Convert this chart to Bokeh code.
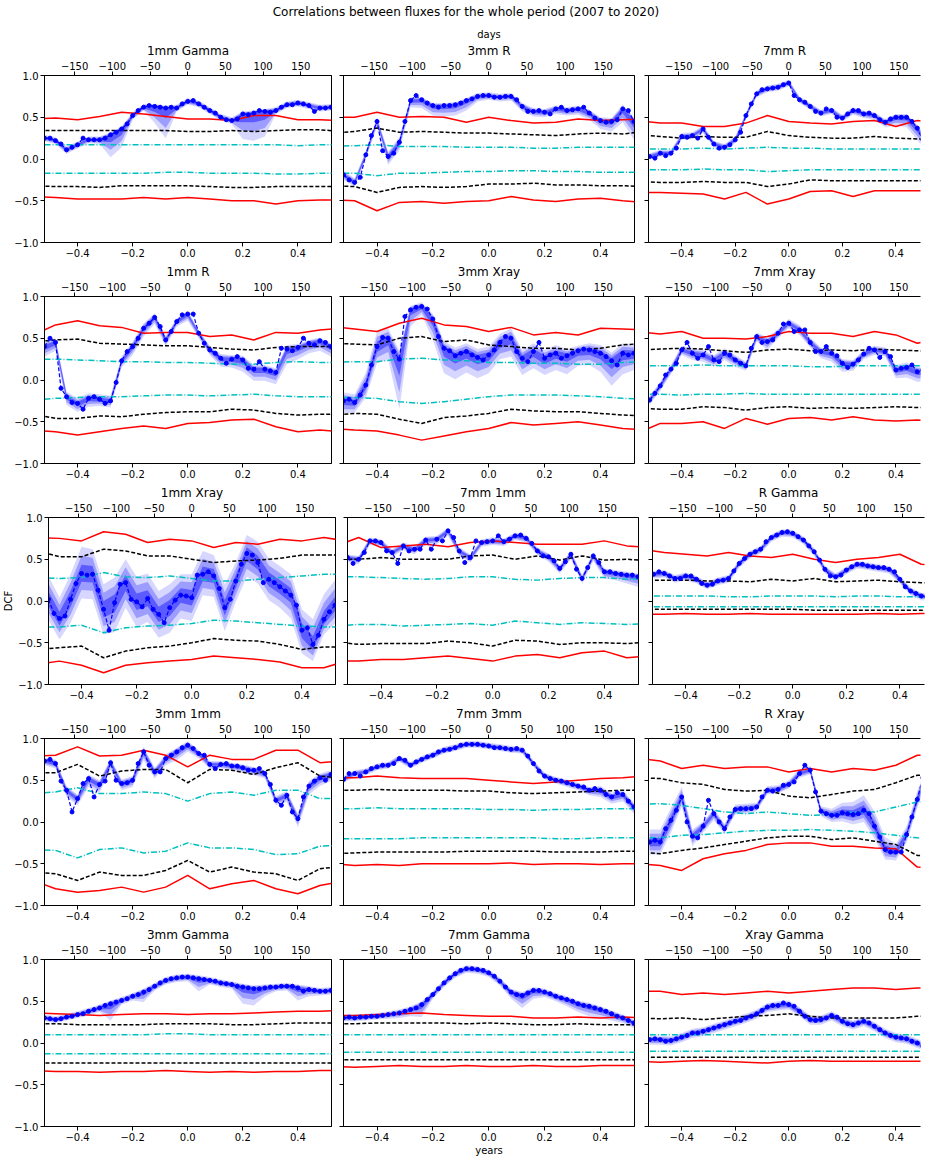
import numpy as np
from bokeh.plotting import figure
from bokeh.layouts import column, row
from bokeh.models import (Range1d, LinearAxis, FixedTicker, Div, Title,
                          CustomJSTickFormatter)
from bokeh.embed import file_html
from bokeh.resources import INLINE

# ---------------------------------------------------------------- data
MAIN_TITLE = "Correlations between fluxes for the whole period (2007 to 2020)"
LAG_YEARS = np.round(np.linspace(-0.52, 0.52, 53), 2)      # DCF lag grid
SIG_LAG_YEARS = np.round(np.linspace(-0.56, 0.56, 15), 2)  # significance-curve grid
YEAR_TICKS = [-0.4, -0.2, 0.0, 0.2, 0.4]
DAY_TICKS = [-150, -100, -50, 0, 50, 100, 150]
DCF_TICKS = [-1.0, -0.5, 0.0, 0.5, 1.0]

# sig tuples: (red upper, black upper, cyan upper, cyan lower, black lower, red lower)
dcf_1mm_gamma = [0.25,0.25,0.22,0.18,0.11,0.14,0.17,0.25,0.23,0.23,0.23,0.25,0.29,0.32,0.36,0.42,0.52,0.58,0.62,0.64,0.63,0.62,0.61,0.62,0.61,0.66,0.69,0.70,0.66,0.62,0.58,0.55,0.50,0.47,0.46,0.48,0.54,0.53,0.55,0.58,0.57,0.56,0.58,0.62,0.65,0.65,0.67,0.66,0.64,0.57,0.61,0.61,0.62]
lo_1mm_gamma = [.04,.04,.05,.04,.04,.05,.27,.22,.05,.04,.20,.36,.04,.04,.04,.04,.04,.04,.30,.33,.30,.04,.04,.04,.04,.04,.04]
hi_1mm_gamma = [.04,.04,.04,.04,.04,.04,.03,.03,.04,.04,.03,.03,.04,.04,.04,.04,.04,.04,.03,.03,.03,.04,.04,.04,.04,.04,.04]
sig_1mm_gamma = ([0.48,0.49,0.47,0.51,0.56,0.54,0.51,0.48,0.48,0.46,0.52,0.52,0.47,0.47,0.46],
                 [0.34,0.34,0.34,0.34,0.34,0.34,0.34,0.33,0.33,0.34,0.33,0.34,0.35,0.35,0.33],
                 [0.17,0.17,0.17,0.17,0.17,0.17,0.17,0.17,0.17,0.17,0.17,0.17,0.16,0.17,0.17],
                 [-0.17,-0.17,-0.17,-0.17,-0.17,-0.17,-0.16,-0.16,-0.17,-0.17,-0.17,-0.18,-0.18,-0.17,-0.17],
                 [-0.32,-0.33,-0.33,-0.34,-0.32,-0.32,-0.32,-0.32,-0.33,-0.34,-0.34,-0.33,-0.33,-0.33,-0.33],
                 [-0.45,-0.46,-0.48,-0.48,-0.48,-0.46,-0.48,-0.46,-0.48,-0.50,-0.50,-0.54,-0.50,-0.49,-0.49])

dcf_3mm_r = [-0.19,-0.25,-0.28,-0.22,0.05,0.28,0.45,0.10,0.03,0.07,0.20,0.45,0.70,0.76,0.71,0.67,0.64,0.62,0.64,0.64,0.65,0.67,0.70,0.72,0.75,0.76,0.76,0.74,0.74,0.75,0.75,0.71,0.63,0.57,0.57,0.58,0.56,0.54,0.60,0.62,0.58,0.59,0.60,0.62,0.55,0.49,0.46,0.44,0.45,0.47,0.60,0.58,0.45]
lo_3mm_r = [.06,.05,.05,.06,.10,.10,.08,.10,.12,.13,.13,.12,.06,.05,.05,.05,.06,.06,.06,.06,.06,.07,.08,.10,.12,.16,.22]
hi_3mm_r = [.05,.05,.05,.05,.06,.06,.04,.03,.03,.03,.03,.03,.04,.04,.04,.04,.04,.04,.04,.04,.04,.04,.04,.04,.04,.05,.05]
sig_3mm_r = ([0.50,0.50,0.56,0.50,0.51,0.50,0.44,0.50,0.46,0.43,0.44,0.48,0.46,0.47,0.48],
             [0.31,0.33,0.37,0.32,0.33,0.32,0.31,0.31,0.30,0.29,0.28,0.30,0.31,0.30,0.33],
             [0.15,0.16,0.17,0.15,0.15,0.15,0.14,0.14,0.14,0.13,0.13,0.14,0.14,0.14,0.14],
             [-0.17,-0.17,-0.20,-0.17,-0.17,-0.16,-0.15,-0.15,-0.14,-0.14,-0.15,-0.15,-0.16,-0.16,-0.16],
             [-0.32,-0.33,-0.40,-0.34,-0.33,-0.34,-0.33,-0.30,-0.30,-0.29,-0.31,-0.31,-0.32,-0.32,-0.33],
             [-0.49,-0.50,-0.62,-0.52,-0.51,-0.53,-0.51,-0.50,-0.45,-0.49,-0.51,-0.48,-0.47,-0.50,-0.52])

dcf_7mm_r = [0.03,0.01,0.07,0.04,0.07,0.13,0.27,0.26,0.28,0.25,0.36,0.26,0.18,0.13,0.14,0.17,0.23,0.32,0.52,0.66,0.78,0.83,0.84,0.85,0.86,0.89,0.91,0.76,0.71,0.68,0.63,0.57,0.55,0.60,0.58,0.50,0.49,0.54,0.58,0.58,0.54,0.55,0.52,0.47,0.44,0.48,0.50,0.50,0.50,0.45,0.37,0.23,0.20]
lo_7mm_r = [.04,.04,.04,.04,.04,.05,.04,.04,.04,.04,.04,.04,.04,.04,.04,.04,.04,.04,.04,.05,.05,.05,.06,.10,.12,.14,.15]
hi_7mm_r = [.04,.04,.04,.04,.04,.04,.04,.04,.04,.04,.04,.04,.04,.04,.04,.04,.04,.04,.04,.04,.04,.04,.04,.04,.04,.04,.04]
sig_7mm_r = ([0.46,0.43,0.43,0.39,0.39,0.43,0.52,0.45,0.43,0.42,0.45,0.46,0.39,0.46,0.43],
             [0.29,0.27,0.25,0.27,0.26,0.26,0.33,0.28,0.26,0.25,0.25,0.27,0.25,0.24,0.25],
             [0.12,0.12,0.12,0.13,0.12,0.13,0.14,0.13,0.13,0.12,0.12,0.12,0.12,0.12,0.12],
             [-0.13,-0.13,-0.13,-0.12,-0.13,-0.13,-0.15,-0.14,-0.13,-0.13,-0.13,-0.13,-0.13,-0.13,-0.12],
             [-0.27,-0.28,-0.28,-0.27,-0.28,-0.28,-0.33,-0.30,-0.25,-0.26,-0.26,-0.26,-0.26,-0.26,-0.26],
             [-0.40,-0.40,-0.41,-0.42,-0.48,-0.40,-0.54,-0.48,-0.39,-0.38,-0.45,-0.38,-0.38,-0.38,-0.38])

dcf_1mm_r = [0.40,0.50,0.45,-0.10,-0.20,-0.27,-0.28,-0.35,-0.22,-0.20,-0.23,-0.28,-0.25,-0.03,0.23,0.34,0.40,0.50,0.62,0.68,0.75,0.64,0.48,0.58,0.70,0.78,0.79,0.79,0.56,0.44,0.36,0.32,0.26,0.20,0.25,0.28,0.24,0.14,0.13,0.22,0.13,0.11,0.09,0.38,0.37,0.35,0.39,0.50,0.44,0.42,0.47,0.45,0.40]
lo_1mm_r = [.12,.10,.10,.10,.10,.08,.08,.08,.10,.10,.08,.08,.06,.08,.06,.06,.10,.10,.14,.14,.14,.14,.18,.14,.12,.12,.12]
hi_1mm_r = [.06,.05,.06,.06,.06,.06,.06,.05,.06,.06,.05,.05,.04,.04,.04,.05,.05,.05,.05,.05,.05,.05,.05,.04,.04,.04,.04]
sig_1mm_r = ([0.54,0.66,0.71,0.65,0.63,0.56,0.57,0.57,0.52,0.54,0.48,0.57,0.56,0.60,0.62],
             [0.46,0.48,0.49,0.44,0.43,0.42,0.41,0.41,0.39,0.37,0.36,0.39,0.40,0.40,0.40],
             [0.25,0.25,0.24,0.23,0.22,0.22,0.21,0.21,0.20,0.19,0.19,0.21,0.22,0.21,0.21],
             [-0.24,-0.22,-0.21,-0.20,-0.20,-0.19,-0.18,-0.18,-0.19,-0.18,-0.17,-0.19,-0.20,-0.20,-0.20],
             [-0.41,-0.46,-0.46,-0.43,-0.44,-0.41,-0.39,-0.38,-0.38,-0.35,-0.36,-0.40,-0.42,-0.41,-0.41],
             [-0.60,-0.62,-0.66,-0.62,-0.58,-0.55,-0.58,-0.52,-0.51,-0.48,-0.47,-0.56,-0.62,-0.60,-0.62])

dcf_3mm_xray = [-0.25,-0.23,-0.27,-0.18,-0.06,0.18,0.40,0.51,0.50,0.34,0.25,0.76,0.84,0.87,0.88,0.85,0.73,0.52,0.38,0.35,0.29,0.32,0.34,0.30,0.27,0.24,0.30,0.36,0.45,0.52,0.50,0.34,0.26,0.22,0.34,0.45,0.26,0.30,0.32,0.26,0.29,0.32,0.35,0.37,0.36,0.34,0.32,0.28,0.23,0.18,0.32,0.30,0.32]
lo_3mm_xray = [.15,.12,.15,.20,.25,.60,.20,.10,.25,.30,.28,.25,.25,.22,.20,.22,.20,.20,.20,.20,.22,.18,.18,.22,.30,.25,.20]
hi_3mm_xray = [.10,.10,.15,.18,.12,.10,.05,.05,.06,.08,.10,.10,.10,.10,.10,.12,.10,.10,.10,.10,.08,.06,.08,.10,.10,.12,.10]
sig_3mm_xray = ([0.64,0.61,0.58,0.68,0.74,0.66,0.64,0.58,0.63,0.54,0.57,0.54,0.62,0.61,0.60],
                [0.44,0.43,0.42,0.50,0.52,0.46,0.48,0.42,0.40,0.38,0.38,0.36,0.38,0.42,0.44],
                [0.21,0.22,0.22,0.25,0.26,0.24,0.23,0.21,0.21,0.20,0.20,0.19,0.19,0.21,0.22],
                [-0.21,-0.21,-0.22,-0.26,-0.28,-0.26,-0.23,-0.20,-0.18,-0.18,-0.18,-0.19,-0.20,-0.22,-0.23],
                [-0.42,-0.40,-0.41,-0.47,-0.52,-0.45,-0.43,-0.40,-0.35,-0.37,-0.38,-0.38,-0.40,-0.42,-0.43],
                [-0.58,-0.60,-0.61,-0.66,-0.72,-0.67,-0.62,-0.58,-0.51,-0.54,-0.52,-0.50,-0.54,-0.58,-0.60])

dcf_7mm_xray = [-0.24,-0.16,-0.07,0.06,0.13,0.20,0.36,0.45,0.32,0.26,0.30,0.40,0.24,0.22,0.32,0.30,0.24,0.20,0.17,0.38,0.52,0.45,0.46,0.48,0.56,0.67,0.68,0.58,0.60,0.60,0.45,0.34,0.34,0.40,0.32,0.29,0.20,0.15,0.19,0.24,0.31,0.38,0.36,0.27,0.34,0.28,0.12,0.14,0.15,0.18,0.10,0.12,0.10]
lo_7mm_xray = [.06,.06,.06,.06,.08,.08,.08,.08,.08,.06,.06,.10,.06,.06,.06,.06,.08,.10,.10,.08,.06,.06,.06,.10,.12,.12,.12]
hi_7mm_xray = [.05,.05,.05,.05,.06,.06,.06,.06,.06,.05,.05,.05,.05,.05,.06,.06,.05,.05,.05,.05,.05,.05,.05,.06,.06,.06,.06]
sig_7mm_xray = ([0.58,0.55,0.58,0.50,0.50,0.49,0.52,0.58,0.56,0.56,0.52,0.58,0.54,0.44,0.50],
                [0.36,0.37,0.38,0.37,0.35,0.33,0.36,0.37,0.35,0.36,0.35,0.37,0.36,0.35,0.34],
                [0.17,0.17,0.17,0.18,0.17,0.17,0.17,0.17,0.16,0.16,0.17,0.17,0.17,0.17,0.17],
                [-0.17,-0.17,-0.18,-0.17,-0.17,-0.16,-0.17,-0.17,-0.17,-0.17,-0.17,-0.17,-0.17,-0.17,-0.17],
                [-0.34,-0.35,-0.35,-0.32,-0.33,-0.36,-0.33,-0.32,-0.34,-0.33,-0.34,-0.33,-0.32,-0.33,-0.33],
                [-0.63,-0.52,-0.52,-0.50,-0.58,-0.46,-0.53,-0.46,-0.45,-0.48,-0.44,-0.48,-0.49,-0.48,-0.50])

dcf_1mm_xray = [0.02,-0.15,-0.21,-0.18,0.02,0.21,0.33,0.31,0.32,0.13,-0.10,-0.35,-0.02,0.20,0.22,0.02,-0.01,-0.07,0.03,-0.10,-0.16,-0.26,-0.08,0.01,0.07,0.06,0.04,0.31,0.32,0.35,0.30,0.15,-0.08,0.02,0.24,0.44,0.57,0.55,0.46,0.22,0.26,0.22,0.17,0.12,0.07,-0.05,-0.35,-0.32,-0.52,-0.41,-0.22,-0.13,-0.05]
lo_1mm_xray = [.25,.25,.28,.30,.30,.30,.35,.30,.30,.28,.28,.30,.28,.28,.25,.25,.28,.25,.28,.25,.25,.25,.28,.28,.20,.18,.22]
hi_1mm_xray = [.28,.25,.30,.32,.30,.30,.30,.28,.30,.30,.28,.28,.25,.28,.28,.25,.28,.22,.22,.25,.25,.25,.25,.25,.30,.30,.30]
sig_1mm_xray = ([0.76,0.75,0.72,0.83,0.80,0.70,0.74,0.72,0.64,0.70,0.68,0.74,0.72,0.76,0.72],
                [0.60,0.53,0.53,0.62,0.60,0.54,0.54,0.50,0.46,0.48,0.49,0.51,0.55,0.55,0.55],
                [0.28,0.27,0.28,0.34,0.29,0.28,0.30,0.27,0.24,0.24,0.26,0.28,0.30,0.32,0.32],
                [-0.31,-0.31,-0.29,-0.38,-0.32,-0.30,-0.29,-0.27,-0.23,-0.24,-0.26,-0.28,-0.30,-0.31,-0.31],
                [-0.58,-0.56,-0.54,-0.68,-0.60,-0.56,-0.54,-0.50,-0.45,-0.47,-0.48,-0.52,-0.58,-0.55,-0.55],
                [-0.76,-0.72,-0.77,-0.86,-0.77,-0.74,-0.72,-0.70,-0.66,-0.68,-0.70,-0.73,-0.80,-0.80,-0.72])

dcf_7mm_1mm = [0.52,0.45,0.50,0.58,0.72,0.72,0.70,0.60,0.58,0.45,0.66,0.60,0.62,0.62,0.73,0.62,0.74,0.72,0.84,0.76,0.60,0.46,0.52,0.72,0.70,0.71,0.72,0.78,0.71,0.74,0.78,0.79,0.75,0.69,0.60,0.54,0.53,0.48,0.39,0.47,0.56,0.38,0.27,0.40,0.54,0.46,0.35,0.35,0.33,0.32,0.31,0.31,0.29]
lo_7mm_1mm = [.05,.06,.05,.05,.05,.05,.06,.06,.06,.06,.06,.06,.05,.05,.05,.05,.05,.05,.06,.06,.06,.06,.06,.08,.08,.10,.12]
hi_7mm_1mm = [.04,.04,.04,.04,.04,.04,.04,.04,.04,.04,.04,.04,.04,.04,.04,.04,.04,.04,.04,.04,.04,.04,.04,.04,.04,.04,.04]
sig_7mm_1mm = ([0.66,0.76,0.64,0.66,0.68,0.65,0.70,0.72,0.70,0.68,0.68,0.68,0.72,0.66,0.64],
               [0.50,0.50,0.52,0.50,0.50,0.50,0.54,0.55,0.50,0.54,0.49,0.54,0.49,0.50,0.48],
               [0.29,0.29,0.28,0.27,0.26,0.27,0.29,0.29,0.26,0.25,0.27,0.28,0.28,0.26,0.27],
               [-0.30,-0.28,-0.28,-0.30,-0.29,-0.28,-0.27,-0.29,-0.24,-0.26,-0.28,-0.26,-0.27,-0.28,-0.27],
               [-0.49,-0.52,-0.51,-0.51,-0.51,-0.48,-0.50,-0.54,-0.47,-0.48,-0.52,-0.50,-0.50,-0.51,-0.49],
               [-0.72,-0.72,-0.70,-0.70,-0.68,-0.66,-0.69,-0.72,-0.66,-0.64,-0.68,-0.62,-0.60,-0.68,-0.66])

dcf_r_gamma = [0.32,0.35,0.33,0.30,0.27,0.27,0.30,0.30,0.26,0.21,0.19,0.20,0.24,0.25,0.27,0.36,0.45,0.51,0.56,0.59,0.62,0.71,0.76,0.79,0.82,0.83,0.81,0.77,0.73,0.66,0.59,0.49,0.38,0.30,0.29,0.31,0.37,0.41,0.44,0.44,0.42,0.41,0.40,0.40,0.38,0.35,0.26,0.17,0.12,0.09,0.06,0.05,0.05]
lo_r_gamma = [.05,.05,.05,.05,.05,.05,.05,.05,.05,.05,.05,.05,.05,.05,.05,.05,.05,.05,.05,.05,.05,.05,.05,.05,.05,.05,.05]
hi_r_gamma = [.04,.04,.04,.04,.04,.04,.04,.04,.04,.04,.04,.04,.04,.04,.04,.04,.04,.04,.04,.04,.04,.04,.04,.04,.04,.04,.04]
sig_r_gamma = ([0.62,0.58,0.56,0.54,0.58,0.54,0.52,0.56,0.50,0.46,0.50,0.52,0.56,0.44,0.42],
               [0.25,0.25,0.25,0.24,0.24,0.23,0.26,0.24,0.27,0.23,0.24,0.25,0.23,0.22,0.21],
               [0.06,0.06,0.06,0.06,0.05,0.05,0.06,0.06,0.06,0.05,0.06,0.06,0.05,0.05,0.05],
               [-0.07,-0.07,-0.07,-0.07,-0.07,-0.07,-0.07,-0.07,-0.07,-0.07,-0.07,-0.07,-0.07,-0.07,-0.07],
               [-0.10,-0.10,-0.10,-0.10,-0.10,-0.10,-0.10,-0.10,-0.11,-0.11,-0.11,-0.11,-0.11,-0.11,-0.11],
               [-0.16,-0.16,-0.15,-0.16,-0.16,-0.15,-0.16,-0.16,-0.16,-0.16,-0.16,-0.15,-0.16,-0.15,-0.15])

dcf_3mm_1mm = [0.73,0.75,0.70,0.49,0.38,0.12,0.28,0.46,0.52,0.30,0.45,0.49,0.71,0.50,0.46,0.47,0.50,0.70,0.84,0.68,0.60,0.60,0.76,0.80,0.84,0.89,0.92,0.88,0.82,0.80,0.69,0.64,0.69,0.70,0.67,0.67,0.65,0.62,0.62,0.64,0.58,0.45,0.26,0.20,0.32,0.12,0.04,0.30,0.43,0.49,0.53,0.50,0.57]
lo_3mm_1mm = [.05,.06,.08,.08,.10,.10,.08,.08,.08,.10,.08,.08,.10,.08,.06,.05,.05,.05,.06,.06,.06,.06,.08,.10,.10,.10,.08]
hi_3mm_1mm = [.04,.05,.05,.05,.05,.05,.05,.05,.05,.06,.05,.05,.05,.05,.04,.04,.04,.04,.04,.04,.04,.05,.05,.06,.06,.05,.05]
sig_3mm_1mm = ([0.79,0.80,0.90,0.79,0.80,0.86,0.80,0.66,0.80,0.75,0.75,0.86,0.86,0.71,0.73],
               [0.59,0.59,0.69,0.55,0.61,0.63,0.63,0.47,0.63,0.62,0.57,0.65,0.71,0.55,0.53],
               [0.34,0.36,0.41,0.34,0.34,0.36,0.34,0.25,0.34,0.36,0.32,0.38,0.38,0.28,0.28],
               [-0.33,-0.34,-0.43,-0.33,-0.31,-0.37,-0.35,-0.25,-0.31,-0.31,-0.33,-0.39,-0.38,-0.29,-0.28],
               [-0.60,-0.62,-0.70,-0.60,-0.64,-0.64,-0.58,-0.46,-0.60,-0.54,-0.60,-0.62,-0.70,-0.56,-0.53],
               [-0.70,-0.80,-0.84,-0.82,-0.78,-0.84,-0.78,-0.64,-0.80,-0.74,-0.70,-0.80,-0.86,-0.76,-0.71])

dcf_7mm_3mm = [0.51,0.58,0.58,0.55,0.60,0.64,0.66,0.68,0.68,0.70,0.76,0.74,0.68,0.72,0.75,0.78,0.80,0.84,0.86,0.87,0.89,0.92,0.93,0.93,0.93,0.92,0.91,0.89,0.89,0.88,0.87,0.88,0.86,0.79,0.70,0.61,0.55,0.52,0.50,0.49,0.47,0.45,0.43,0.42,0.38,0.40,0.38,0.33,0.30,0.35,0.33,0.25,0.18]
lo_7mm_3mm = [.04,.04,.04,.04,.04,.04,.04,.04,.04,.04,.04,.04,.04,.04,.04,.04,.04,.04,.04,.04,.05,.05,.06,.08,.08,.08,.08]
hi_7mm_3mm = [.04,.04,.04,.04,.04,.04,.04,.04,.04,.04,.04,.04,.04,.04,.04,.04,.04,.04,.04,.04,.04,.04,.04,.05,.05,.05,.05]
sig_7mm_3mm = ([0.53,0.53,0.55,0.53,0.52,0.52,0.52,0.50,0.48,0.46,0.48,0.50,0.52,0.53,0.55],
               [0.38,0.38,0.39,0.38,0.38,0.38,0.37,0.37,0.35,0.34,0.35,0.36,0.37,0.38,0.38],
               [0.16,0.16,0.17,0.16,0.16,0.16,0.16,0.15,0.15,0.14,0.15,0.15,0.16,0.16,0.16],
               [-0.20,-0.20,-0.20,-0.20,-0.19,-0.19,-0.19,-0.19,-0.19,-0.19,-0.20,-0.20,-0.19,-0.19,-0.19],
               [-0.38,-0.37,-0.36,-0.36,-0.36,-0.36,-0.35,-0.35,-0.35,-0.35,-0.36,-0.36,-0.36,-0.35,-0.35],
               [-0.50,-0.52,-0.51,-0.52,-0.50,-0.50,-0.50,-0.50,-0.49,-0.51,-0.50,-0.50,-0.51,-0.50,-0.50])

dcf_r_xray = [-0.24,-0.22,-0.24,-0.08,0.02,0.14,0.30,0.00,-0.17,-0.19,-0.05,0.26,0.10,0.00,-0.08,0.06,0.15,0.16,0.16,0.16,0.18,0.30,0.38,0.37,0.39,0.44,0.45,0.48,0.58,0.68,0.62,0.36,0.13,0.10,0.08,0.08,0.11,0.10,0.09,0.10,0.14,0.10,-0.05,-0.18,-0.33,-0.36,-0.36,-0.36,-0.15,0.06,0.27,0.53,0.60]
lo_r_xray = [.15,.15,.15,.12,.12,.08,.08,.06,.06,.06,.05,.05,.05,.05,.05,.05,.06,.08,.10,.12,.14,.15,.12,.10,.10,.10,.10]
hi_r_xray = [.15,.15,.15,.12,.08,.06,.06,.06,.06,.06,.05,.05,.05,.05,.05,.05,.06,.08,.12,.15,.18,.18,.15,.10,.10,.10,.10]
sig_r_xray = ([0.76,0.73,0.64,0.68,0.64,0.66,0.66,0.60,0.64,0.60,0.64,0.62,0.68,0.80,0.79],
              [0.53,0.52,0.47,0.45,0.39,0.37,0.38,0.31,0.29,0.33,0.37,0.39,0.47,0.56,0.57],
              [0.21,0.22,0.20,0.16,0.12,0.10,0.12,0.10,0.08,0.09,0.12,0.12,0.18,0.24,0.25],
              [-0.19,-0.19,-0.16,-0.15,-0.13,-0.11,-0.10,-0.10,-0.09,-0.10,-0.11,-0.13,-0.16,-0.19,-0.21],
              [-0.36,-0.38,-0.34,-0.31,-0.27,-0.23,-0.19,-0.17,-0.17,-0.21,-0.19,-0.23,-0.27,-0.40,-0.40],
              [-0.50,-0.52,-0.58,-0.44,-0.38,-0.34,-0.27,-0.25,-0.25,-0.29,-0.29,-0.31,-0.32,-0.54,-0.55])

dcf_3mm_gamma = [0.30,0.29,0.28,0.29,0.31,0.32,0.34,0.35,0.38,0.40,0.42,0.45,0.47,0.49,0.51,0.53,0.56,0.58,0.61,0.64,0.68,0.72,0.75,0.77,0.78,0.79,0.79,0.78,0.77,0.76,0.75,0.74,0.72,0.71,0.70,0.68,0.67,0.66,0.65,0.65,0.66,0.67,0.67,0.68,0.68,0.68,0.66,0.62,0.64,0.63,0.62,0.62,0.63]
lo_3mm_gamma = [.04,.04,.04,.04,.05,.05,.20,.05,.05,.12,.05,.05,.05,.05,.15,.05,.05,.05,.20,.20,.10,.05,.05,.15,.08,.05,.05]
hi_3mm_gamma = [.04,.04,.04,.04,.04,.04,.04,.04,.04,.04,.04,.04,.04,.04,.04,.04,.04,.04,.04,.04,.04,.04,.04,.04,.04,.04,.04]
sig_3mm_gamma = ([0.36,0.35,0.34,0.33,0.34,0.35,0.35,0.34,0.35,0.35,0.36,0.37,0.38,0.38,0.39],
                 [0.23,0.23,0.22,0.22,0.22,0.22,0.23,0.23,0.23,0.22,0.22,0.23,0.24,0.24,0.24],
                 [0.10,0.10,0.10,0.10,0.10,0.10,0.11,0.11,0.10,0.10,0.10,0.10,0.10,0.10,0.10],
                 [-0.13,-0.13,-0.13,-0.13,-0.13,-0.13,-0.13,-0.13,-0.13,-0.13,-0.13,-0.13,-0.13,-0.13,-0.13],
                 [-0.24,-0.24,-0.24,-0.24,-0.24,-0.24,-0.24,-0.24,-0.24,-0.24,-0.24,-0.24,-0.24,-0.24,-0.24],
                 [-0.33,-0.34,-0.34,-0.35,-0.34,-0.34,-0.33,-0.34,-0.35,-0.34,-0.35,-0.34,-0.34,-0.33,-0.33])

dcf_7mm_gamma = [0.30,0.31,0.30,0.31,0.31,0.32,0.32,0.33,0.34,0.35,0.36,0.38,0.40,0.42,0.46,0.52,0.58,0.65,0.72,0.78,0.83,0.87,0.89,0.89,0.88,0.87,0.84,0.80,0.74,0.67,0.61,0.58,0.57,0.60,0.63,0.63,0.61,0.59,0.56,0.54,0.52,0.50,0.47,0.45,0.44,0.42,0.40,0.38,0.35,0.32,0.30,0.27,0.24]
lo_7mm_gamma = [.04,.04,.04,.04,.05,.06,.08,.15,.05,.05,.05,.05,.05,.05,.05,.08,.15,.10,.06,.06,.08,.10,.12,.10,.08,.06,.06]
hi_7mm_gamma = [.04,.04,.04,.04,.04,.04,.04,.04,.04,.04,.04,.04,.04,.04,.04,.04,.04,.04,.04,.04,.04,.04,.04,.04,.04,.04,.04]
sig_7mm_gamma = ([0.33,0.33,0.34,0.35,0.36,0.34,0.33,0.32,0.32,0.30,0.30,0.31,0.30,0.31,0.30],
                 [0.23,0.23,0.24,0.24,0.24,0.24,0.23,0.24,0.23,0.22,0.22,0.23,0.22,0.22,0.22],
                 [0.10,0.10,0.10,0.10,0.10,0.10,0.10,0.10,0.10,0.10,0.10,0.10,0.10,0.10,0.10],
                 [-0.11,-0.11,-0.11,-0.11,-0.11,-0.11,-0.11,-0.11,-0.11,-0.11,-0.11,-0.11,-0.11,-0.11,-0.11],
                 [-0.20,-0.20,-0.20,-0.20,-0.20,-0.20,-0.20,-0.20,-0.20,-0.20,-0.20,-0.20,-0.20,-0.20,-0.20],
                 [-0.28,-0.29,-0.28,-0.27,-0.28,-0.28,-0.27,-0.28,-0.28,-0.27,-0.28,-0.28,-0.27,-0.27,-0.27])

dcf_xray_gamma = [0.04,0.05,0.04,0.02,0.03,0.05,0.07,0.09,0.12,0.12,0.14,0.16,0.18,0.20,0.22,0.24,0.26,0.27,0.30,0.32,0.35,0.39,0.43,0.45,0.45,0.48,0.46,0.44,0.38,0.32,0.28,0.27,0.28,0.30,0.33,0.31,0.26,0.23,0.22,0.24,0.26,0.24,0.20,0.16,0.12,0.09,0.07,0.06,0.05,0.02,0.00,-0.04,-0.05]
lo_xray_gamma = [.06,.06,.06,.06,.06,.06,.06,.06,.06,.06,.06,.06,.06,.06,.06,.06,.06,.06,.06,.06,.06,.06,.06,.06,.06,.06,.06]
hi_xray_gamma = [.05,.05,.05,.05,.05,.05,.05,.05,.05,.05,.05,.05,.05,.05,.05,.05,.05,.05,.05,.05,.05,.05,.05,.05,.05,.05,.05]
sig_xray_gamma = ([0.62,0.62,0.58,0.60,0.58,0.60,0.62,0.60,0.62,0.64,0.66,0.66,0.64,0.66,0.66],
                  [0.30,0.29,0.30,0.28,0.30,0.32,0.33,0.35,0.32,0.30,0.30,0.30,0.30,0.32,0.33],
                  [0.10,0.10,0.10,0.10,0.10,0.10,0.10,0.10,0.10,0.10,0.10,0.10,0.10,0.10,0.10],
                  [-0.10,-0.10,-0.10,-0.10,-0.10,-0.10,-0.10,-0.10,-0.10,-0.10,-0.10,-0.10,-0.10,-0.10,-0.10],
                  [-0.17,-0.17,-0.17,-0.17,-0.17,-0.17,-0.17,-0.17,-0.17,-0.17,-0.17,-0.17,-0.17,-0.17,-0.17],
                  [-0.22,-0.23,-0.22,-0.21,-0.22,-0.23,-0.24,-0.22,-0.21,-0.22,-0.22,-0.22,-0.22,-0.22,-0.22])

PANELS = [
    ("1mm Gamma", dcf_1mm_gamma, lo_1mm_gamma, hi_1mm_gamma, sig_1mm_gamma),
    ("3mm R", dcf_3mm_r, lo_3mm_r, hi_3mm_r, sig_3mm_r),
    ("7mm R", dcf_7mm_r, lo_7mm_r, hi_7mm_r, sig_7mm_r),
    ("1mm R", dcf_1mm_r, lo_1mm_r, hi_1mm_r, sig_1mm_r),
    ("3mm Xray", dcf_3mm_xray, lo_3mm_xray, hi_3mm_xray, sig_3mm_xray),
    ("7mm Xray", dcf_7mm_xray, lo_7mm_xray, hi_7mm_xray, sig_7mm_xray),
    ("1mm Xray", dcf_1mm_xray, lo_1mm_xray, hi_1mm_xray, sig_1mm_xray),
    ("7mm 1mm", dcf_7mm_1mm, lo_7mm_1mm, hi_7mm_1mm, sig_7mm_1mm),
    ("R Gamma", dcf_r_gamma, lo_r_gamma, hi_r_gamma, sig_r_gamma),
    ("3mm 1mm", dcf_3mm_1mm, lo_3mm_1mm, hi_3mm_1mm, sig_3mm_1mm),
    ("7mm 3mm", dcf_7mm_3mm, lo_7mm_3mm, hi_7mm_3mm, sig_7mm_3mm),
    ("R Xray", dcf_r_xray, lo_r_xray, hi_r_xray, sig_r_xray),
    ("3mm Gamma", dcf_3mm_gamma, lo_3mm_gamma, hi_3mm_gamma, sig_3mm_gamma),
    ("7mm Gamma", dcf_7mm_gamma, lo_7mm_gamma, hi_7mm_gamma, sig_7mm_gamma),
    ("Xray Gamma", dcf_xray_gamma, lo_xray_gamma, hi_xray_gamma, sig_xray_gamma),
]

# ---------------------------------------------------------------- style
FONT = "DejaVu Sans"
FRAME_W = [287, 291, 272]
FRAME_H = 167
BORDER_L = [44, 7, 7]
BORDER_R = [5, 7, 2]
XLIM = [(-0.52, 0.522), (-0.52, 0.522), (-0.524, 0.492)]
BAND_COLORS = [(1.0, "#d6d6ff"), (0.66, "#9d9dff"), (0.33, "#5b5bff")]
SIG_STYLES = [("#ff0000", "solid"), ("black", "4 2"), ("#00bfbf", "6 2 1 2"),
              ("#00bfbf", "6 2 1 2"), ("black", "4 2"), ("#ff0000", "solid")]

fmt1 = CustomJSTickFormatter(code="return (tick < 0 ? '\\u2212' : '') + Math.abs(tick).toFixed(1);")
fmt0 = CustomJSTickFormatter(code="return (tick < 0 ? '\\u2212' : '') + Math.abs(tick).toFixed(0);")
blank = CustomJSTickFormatter(code="return '';")


def style_axis(ax):
    ax.major_tick_out = 4
    ax.major_tick_in = 0
    ax.minor_tick_line_color = None
    ax.axis_line_color = "black"
    ax.major_tick_line_color = "black"
    ax.major_label_text_font = FONT
    ax.major_label_text_font_size = "10px"
    ax.major_label_text_color = "black"
    ax.major_label_standoff = 2
    ax.axis_label_text_font = FONT
    ax.axis_label_text_font_size = "10px"
    ax.axis_label_text_font_style = "normal"
    ax.axis_label_text_color = "black"
    ax.axis_label_standoff = 1


def make_panel(r, c, name, dcf, lo, hi, sig):
    x0, x1 = XLIM[c]
    p = figure(frame_width=FRAME_W[c], frame_height=FRAME_H,
               x_range=Range1d(x0, x1), y_range=Range1d(-1, 1),
               output_backend="svg", toolbar_location=None, title_location=None,
               min_border_left=BORDER_L[c], min_border_right=BORDER_R[c],
               min_border_top=49 if r == 0 else 36,
               min_border_bottom=32 if r == 4 else 18,
               background_fill_color="white", border_fill_color="white")
    p.xgrid.grid_line_color = None
    p.ygrid.grid_line_color = None
    p.outline_line_color = "black" if c < 2 else None
    p.outline_line_width = 1

    bottom_ax = p.below[0]
    left_ax = p.left[0]
    bottom_ax.ticker = FixedTicker(ticks=YEAR_TICKS)
    bottom_ax.formatter = fmt1
    left_ax.ticker = FixedTicker(ticks=DCF_TICKS)
    left_ax.formatter = fmt1 if c == 0 else blank
    style_axis(bottom_ax)
    style_axis(left_ax)

    p.extra_x_ranges = {"days": Range1d(x0 * 365.25, x1 * 365.25)}
    top = LinearAxis(x_range_name="days", ticker=FixedTicker(ticks=DAY_TICKS), formatter=fmt0)
    style_axis(top)
    p.add_layout(top, "above")
    p.add_layout(Title(text=name, align="center", text_font=FONT, text_font_size="12px",
                       text_font_style="normal", text_color="black", standoff=2), "above")
    if r == 0 and c == 1:
        p.add_layout(Title(text="days", align="center", text_font=FONT, text_font_size="10px",
                           text_font_style="normal", text_color="black", standoff=1), "above")
    if r == 2 and c == 0:
        left_ax.axis_label = "DCF"
    if r == 4 and c == 1:
        bottom_ax.axis_label = "years"

    d = np.array(dcf)
    xb = LAG_YEARS[::2]
    db = d[::2]
    lo_a = np.array(lo)
    hi_a = np.array(hi)
    for f, col in BAND_COLORS:
        p.varea(x=xb, y1=db - f * lo_a, y2=db + f * hi_a, fill_color=col, fill_alpha=1.0)

    for vals, (col, dash) in zip(sig, SIG_STYLES):
        p.line(SIG_LAG_YEARS, vals, line_color=col, line_dash=dash, line_width=1.5)

    p.line(LAG_YEARS, d, line_color="#0000ff", line_dash="4 2", line_width=1.2)
    p.scatter(LAG_YEARS, d, size=4, fill_color="#0000ff", line_color="#0000ff")
    return p


rows = []
for r in range(5):
    figs = []
    for c in range(3):
        name, dcf, lo, hi, sig = PANELS[r * 3 + c]
        figs.append(make_panel(r, c, name, dcf, lo, hi, sig))
    rows.append(row(*figs))

header = Div(text=MAIN_TITLE, width=922, height=16,
             styles={"text-align": "center", "font-family": FONT, "font-size": "12px",
                     "line-height": "14px", "color": "black", "width": "922px"})

layout = column(header, *rows)

with open("out.html", "w", encoding="utf-8") as fh:
    fh.write(file_html(layout, INLINE, title="DCF"))
